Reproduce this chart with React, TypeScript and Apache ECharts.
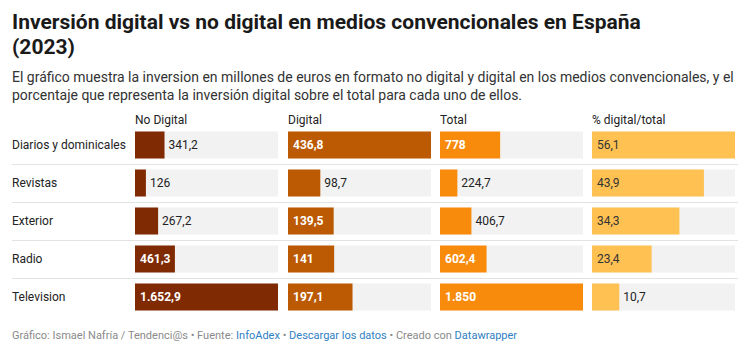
import React, { useEffect, useRef } from 'react';
import * as echarts from 'echarts';

const categories = ['Diarios y dominicales', 'Revistas', 'Exterior', 'Radio', 'Television'];
const noDigital = [341.2, 126, 267.2, 461.3, 1652.9];
const digital = [436.8, 98.7, 139.5, 141, 197.1];
const total = [778, 224.7, 406.7, 602.4, 1850];
const pctDigital = [56.1, 43.9, 34.3, 23.4, 10.7];
const columnHeaders = ['No Digital', 'Digital', 'Total', '% digital/total'];

const titleText = 'Inversión digital vs no digital en medios convencionales en España\n(2023)';
const subtitleText =
  'El gráfico muestra la inversion en millones de euros en formato no digital y digital en los medios convencionales, y el\nporcentaje que representa la inversión digital sobre el total para cada uno de ellos.';

const FONT = 'Roboto, "Noto Sans", sans-serif';

function fmt(v: number): string {
  const neg = v < 0;
  const abs = Math.abs(v);
  const hasDec = Math.round(abs * 10) % 10 !== 0;
  const intPart = Math.floor(abs + 1e-9);
  const dec = Math.round((abs - intPart) * 10);
  const intStr = String(intPart).replace(/\B(?=(\d{3})+(?!\d))/g, '.');
  return (neg ? '-' : '') + intStr + (hasDec ? ',' + dec : '');
}

export default function App() {
  const ref = useRef<HTMLDivElement>(null);
  useEffect(() => {
    if (!ref.current) return;
    const chart = echarts.init(ref.current, null, { renderer: 'svg' });

    const columns = [
      { data: noDigital, color: '#7f2a02', inText: '#ffffff', inWeight: 'bold' },
      { data: digital, color: '#bb5a02', inText: '#ffffff', inWeight: 'bold' },
      { data: total, color: '#f98b0c', inText: '#ffffff', inWeight: 'bold' },
      { data: pctDigital, color: '#fec152', inText: '#333333', inWeight: 'normal' },
    ];
    const colLeft = [135, 288, 440, 592];
    const colWidth = 143;
    const gridTop = 126;
    const rowPitch = 38;
    const gridHeight = rowPitch * categories.length;

    const grid = colLeft.map((l) => ({ left: l, top: gridTop, width: colWidth, height: gridHeight }));
    const xAxis = columns.map((c, i) => ({
      type: 'value' as const,
      gridIndex: i,
      min: 0,
      max: Math.max(...c.data),
      show: false,
    }));
    const yAxis = columns.map((c, i) => ({
      type: 'category' as const,
      gridIndex: i,
      data: categories,
      inverse: true,
      axisLine: { show: false },
      axisTick: { show: false },
      splitLine: { show: false },
      axisLabel:
        i === 0
          ? { show: true, align: 'left', margin: 123, fontSize: 12, fontFamily: FONT, color: '#222' }
          : { show: false },
    }));
    const series = columns.map((c, i) => {
      const max = Math.max(...c.data);
      return {
        type: 'bar' as const,
        xAxisIndex: i,
        yAxisIndex: i,
        barWidth: 27,
        showBackground: true,
        backgroundStyle: { color: '#f2f2f2' },
        itemStyle: { color: c.color },
        data: c.data.map((v) => {
          const inside = v / max >= 0.25;
          return {
            value: v,
            label: {
              show: true,
              position: inside ? 'insideLeft' : 'right',
              distance: inside ? 5 : 4,
              color: inside ? c.inText : '#222',
              fontWeight: inside ? c.inWeight : 'normal',
              fontSize: 12,
              fontFamily: FONT,
              formatter: () => fmt(v),
            },
          };
        }),
      };
    });

    const graphic: any[] = [
      {
        type: 'text',
        left: 12,
        top: 9,
        style: {
          text: titleText,
          fontSize: 21,
          fontWeight: 'bold',
          fontFamily: FONT,
          fill: '#1a1a1a',
          lineHeight: 25,
        },
      },
      {
        type: 'text',
        left: 12,
        top: 68,
        style: {
          text: subtitleText,
          fontSize: 14,
          fontFamily: FONT,
          fill: '#333',
          lineHeight: 18,
        },
      },
      {
        type: 'text',
        left: 12,
        top: 330,
        style: {
          text: '{g|Gráfico: Ismael Nafría / Tendenci@s • Fuente: }{b|InfoAdex}{g| • }{b|Descargar los datos}{g| • Creado con }{b|Datawrapper}',
          fontSize: 11,
          fontFamily: FONT,
          rich: {
            g: { fill: '#8a8a8a', fontSize: 11, fontFamily: FONT },
            b: { fill: '#2f80c2', fontSize: 11, fontFamily: FONT },
          },
        },
      },
    ];
    columnHeaders.forEach((h, i) => {
      graphic.push({
        type: 'text',
        left: colLeft[i],
        top: 114,
        style: { text: h, fontSize: 12, fontFamily: FONT, fill: '#222' },
      });
    });
    for (let i = 1; i < categories.length; i++) {
      const y = gridTop + rowPitch * i + 0.5;
      graphic.push({
        type: 'line',
        shape: { x1: 12, y1: y, x2: 738, y2: y },
        style: { stroke: '#e2e2e2', lineWidth: 1 },
        z: -1,
      });
    }

    chart.setOption({
      animation: false,
      backgroundColor: '#ffffff',
      textStyle: { fontFamily: FONT },
      grid,
      xAxis,
      yAxis,
      series,
      graphic,
    });
    return () => chart.dispose();
  }, []);
  return (
    <div
      ref={ref}
      style={{ position: 'fixed', left: 0, top: 0, width: 752, height: 354, background: '#fff' }}
    />
  );
}
